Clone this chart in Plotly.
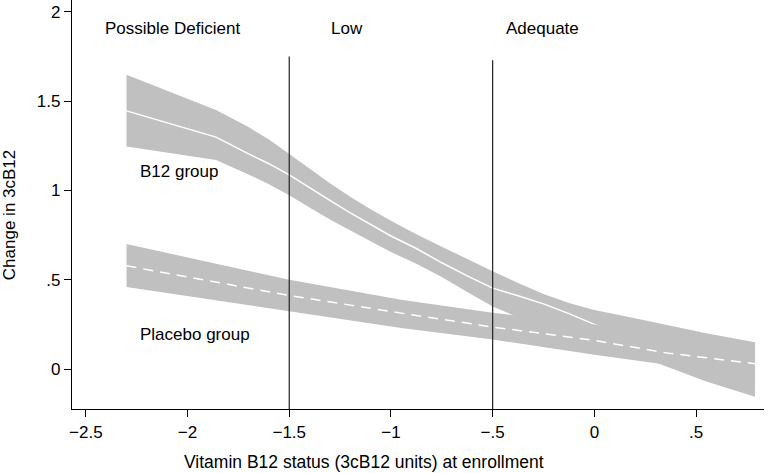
import plotly.graph_objects as go

# B12 group: fitted change and its confidence band
b12_x = [-2.3, -1.86, -1.7, -1.6, -1.5, -1.4, -1.3, -1.2, -1.1, -1.0, -0.875, -0.75, -0.625, -0.5,
         -0.375, -0.25, -0.125, 0.0, 0.2, 0.35, 0.55, 0.79]
b12_fit = [1.446, 1.299, 1.205, 1.15, 1.088, 1.015, 0.945, 0.875, 0.81, 0.745, 0.675, 0.595, 0.522, 0.453,
           0.41, 0.365, 0.31, 0.25, 0.17, 0.13, 0.06, 0.0]
b12_upper = [1.648, 1.451, 1.355, 1.285, 1.205, 1.12, 1.04, 0.965, 0.895, 0.83, 0.755, 0.685, 0.615, 0.548,
             0.482, 0.42, 0.37, 0.33, 0.285, 0.25, 0.2, 0.15]
b12_lower = [1.246, 1.171, 1.09, 1.035, 0.973, 0.905, 0.838, 0.775, 0.715, 0.655, 0.59, 0.515, 0.432, 0.35,
             0.29, 0.24, 0.2, 0.16, 0.08, 0.018, -0.07, -0.155]

# Placebo group
pl_x = [-2.3, -1.5, -0.95, -0.5, -0.17, 0.0, 0.356, 0.79]
pl_fit = [0.578, 0.412, 0.313, 0.235, 0.186, 0.16, 0.09, 0.03]
pl_upper = [0.70, 0.50, 0.388, 0.315, 0.27, 0.25, 0.19, 0.14]
pl_lower = [0.459, 0.323, 0.23, 0.165, 0.108, 0.08, 0.024, -0.08]

# status cut-offs and their labels
cutoffs = [-1.5, -0.5]
cutoff_tops = [1.75, 1.73]
zone_labels = ["Possible Deficient", "Low", "Adequate"]
zone_x = [-2.075, -1.215, -0.257]

x_ticks = [-2.5, -2, -1.5, -1, -0.5, 0, 0.5]
x_ticktext = ["\u22122.5", "\u22122", "\u22121.5", "\u22121", "\u2212.5", "0", ".5"]
y_ticks = [0, 0.5, 1, 1.5, 2]
y_ticktext = ["0", ".5", "1", "1.5", "2"]

BAND = "rgb(192,192,192)"
FONT = "Liberation Sans, Arial, sans-serif"


def band(x, lo, hi):
    # closed polygon: upper edge left->right, lower edge back
    return go.Scatter(x=x + x[::-1], y=hi + lo[::-1], fill="toself",
                      fillcolor=BAND, line=dict(width=0), mode="lines",
                      hoverinfo="skip", showlegend=False)


fig = go.Figure()
fig.add_trace(band(b12_x, b12_lower, b12_upper))
fig.add_trace(go.Scatter(x=b12_x, y=b12_fit, mode="lines", line=dict(color="white", width=1.5),
                         name="B12 group", showlegend=False))
fig.add_trace(band(pl_x, pl_lower, pl_upper))
fig.add_trace(go.Scatter(x=pl_x, y=pl_fit, mode="lines", line=dict(color="white", width=1.5, dash="10px,7px"),
                         name="Placebo group", showlegend=False))

for cx, top in zip(cutoffs, cutoff_tops):
    fig.add_trace(go.Scatter(x=[cx, cx], y=[-0.3, top], mode="lines",
                             line=dict(color="#222222", width=1.2), hoverinfo="skip", showlegend=False))

for label, lx in zip(zone_labels, zone_x):
    fig.add_annotation(x=lx, y=1.905, text=label, showarrow=False, xref="x", yref="y")

fig.add_annotation(x=-2.243, y=1.105, text="B12 group", showarrow=False, xanchor="left")
fig.add_annotation(x=-2.243, y=0.192, text="Placebo group", showarrow=False, xanchor="left")

# axis titles sit off-centre in the original, so place them as paper annotations
fig.add_annotation(x=0.422, y=-0.1296, xref="paper", yref="paper", showarrow=False,
                   text="Vitamin B12 status (3cB12 units) at enrollment", yanchor="middle",
                   font=dict(size=17.5))
fig.add_annotation(x=-0.091, y=0.474, xref="paper", yref="paper", showarrow=False,
                   text="Change in 3cB12", textangle=-90, xanchor="center", yanchor="middle")

fig.update_layout(
    width=768, height=473,
    margin=dict(l=72, r=4, t=0, b=64),
    plot_bgcolor="white", paper_bgcolor="white",
    font=dict(family=FONT, size=17, color="black"),
    showlegend=False,
)
fig.update_xaxes(range=[-2.568, 0.834], tickvals=x_ticks, ticktext=x_ticktext, automargin=False,
                 showgrid=False, zeroline=False, showline=True, linecolor="black", linewidth=1.2,
                 ticks="outside", ticklen=7, tickcolor="black", tickfont=dict(size=17))
fig.update_yaxes(range=[-0.224, 2.067], tickvals=y_ticks, ticktext=y_ticktext, automargin=False,
                 showgrid=False, zeroline=False, showline=True, linecolor="black", linewidth=1.2,
                 ticks="outside", ticklen=7, tickcolor="black", tickfont=dict(size=17))

# the page's default 8px body margin would push the figure off the window
fig.write_html("out.html", config={"displayModeBar": False},
               post_script="document.body.style.margin='0';")
